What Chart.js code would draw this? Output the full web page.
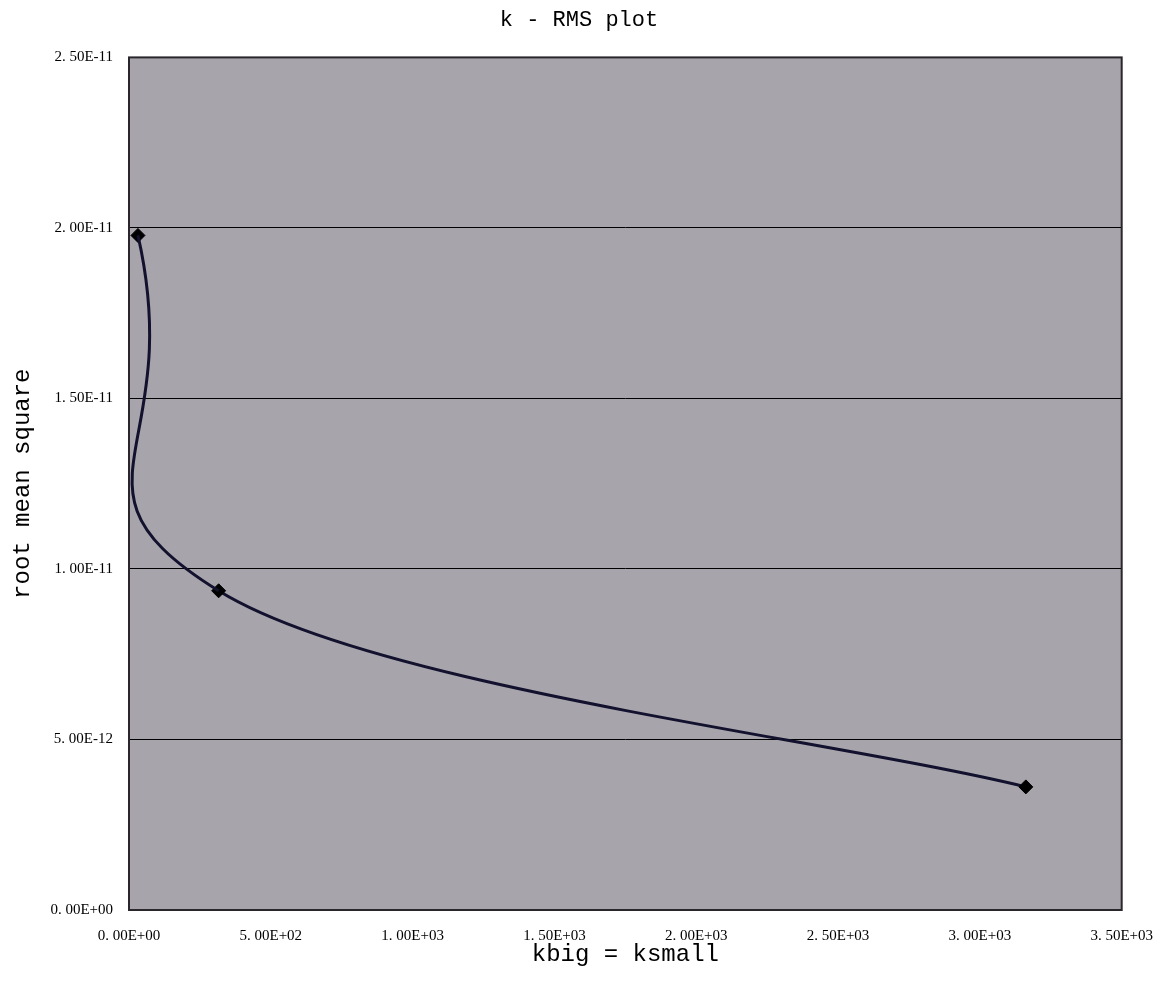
<!DOCTYPE html>
<html>
<head>
<meta charset="utf-8">
<script src="https://cdn.jsdelivr.net/npm/chart.js@4"></script>
<style>
  html, body { margin: 0; padding: 0; background: #fff; }
  #wrap { width: 1170px; height: 985px; }
</style>
</head>
<body>
<div id="wrap"><canvas id="rms-chart" width="1170" height="985"></canvas></div>
<script>
// values
const kValues = [31.6, 316, 3162]
const rmsValues = [1.978e-11, 9.36e-12, 3.61e-12]

const xMin = 0
const xMax = 3500
const xStep = 500
const yMin = 0
const yMax = 2.5e-11
const yStep = 5e-12

const points = kValues.map(function (k, i) {
  return { x: k, y: rmsValues[i] }
})

const lineColor = '#12122e'
const hidden = 'rgba(0,0,0,0)'

// 2.50E-11 style labels, with the wide dot of the original
function sciLabel (value) {
  const parts = Number(value).toExponential(2).split('e')
  let exp = parseInt(parts[1], 10)
  const sign = exp < 0 ? '-' : '+'
  exp = Math.abs(exp)
  const expText = exp < 10 ? '0' + exp : String(exp)
  return parts[0].replace('.', '. ') + 'E' + sign + expText
}

const plotFrame = {
  id: 'plotFrame',
  beforeDraw: function (chart) {
    const a = chart.chartArea
    const ctx = chart.ctx
    ctx.save()
    ctx.fillStyle = '#a8a4ac'
    ctx.fillRect(a.left, a.top, a.right - a.left, a.bottom - a.top)
    ctx.restore()
  },
  afterDraw: function (chart) {
    const a = chart.chartArea
    const ctx = chart.ctx
    ctx.save()
    ctx.strokeStyle = '#2a262c'
    ctx.lineWidth = 2
    ctx.strokeRect(a.left, a.top, a.right - a.left, a.bottom - a.top)
    ctx.restore()
  },
}

const tickFont = { family: '"Liberation Serif", "DejaVu Serif", serif', size: 15 }
const titleFont = { family: '"Liberation Mono", "DejaVu Sans Mono", monospace', size: 24 }

// Excel smooths each piece a little differently, so the curve is drawn
// twice from the same points, each copy showing only one of the pieces
const config = {
  type: 'scatter',
  data: {
    datasets: [{
      label: 'RMS upper',
      data: points,
      showLine: true,
      tension: 0.62,
      borderWidth: 3,
      borderColor: lineColor,
      segment: {
        borderColor: function (c) { return c.p0DataIndex === 0 ? lineColor : hidden },
      },
      pointRadius: 0,
      pointHoverRadius: 0,
    }, {
      label: 'RMS',
      data: points,
      showLine: true,
      tension: 0.25,
      borderWidth: 3,
      borderColor: lineColor,
      segment: {
        borderColor: function (c) { return c.p0DataIndex === 1 ? lineColor : hidden },
      },
      backgroundColor: '#000000',
      pointStyle: 'rectRot',
      pointRadius: 7,
      pointHoverRadius: 7,
      pointBorderWidth: 1,
      pointBorderColor: '#000000',
      pointBackgroundColor: '#000000',
    }],
  },
  options: {
    responsive: false,
    animation: false,
    elements: {
      line: { capBezierPoints: false },
    },
    layout: {
      padding: { top: 0, right: 12, bottom: 0, left: 0 },
    },
    plugins: {
      legend: { display: false },
      tooltip: { enabled: false },
      title: {
        display: true,
        text: 'k - RMS plot',
        color: '#000',
        font: { family: '"Liberation Mono", "DejaVu Sans Mono", monospace', size: 22, weight: 'normal' },
        padding: { top: 7, bottom: 24 },
      },
    },
    scales: {
      x: {
        type: 'linear',
        min: xMin,
        max: xMax,
        afterFit: function (scale) { scale.height = 75 },
        grid: { display: false, drawTicks: false },
        border: { display: false },
        ticks: {
          stepSize: xStep,
          color: '#000',
          font: tickFont,
          padding: 17,
          maxRotation: 0,
          callback: function (v) { return sciLabel(v) },
        },
        title: {
          display: true,
          text: 'kbig = ksmall',
          color: '#000',
          font: titleFont,
          padding: { top: 0, bottom: 16 },
        },
      },
      y: {
        type: 'linear',
        min: yMin,
        max: yMax,
        afterFit: function (scale) { scale.width = 129 },
        grid: { color: '#000000', lineWidth: 1, drawTicks: false },
        border: { display: false },
        ticks: {
          stepSize: yStep,
          color: '#000',
          font: tickFont,
          padding: 16,
          callback: function (v) { return sciLabel(v) },
        },
        title: {
          display: true,
          text: 'root mean square',
          color: '#000',
          font: titleFont,
          padding: { top: 8, bottom: 0 },
        },
      },
      // empty strip on the right so the plot ends where the original does
      yRight: {
        type: 'linear',
        position: 'right',
        afterFit: function (scale) { scale.width = 36 },
        grid: { display: false, drawTicks: false },
        border: { display: false },
        ticks: { display: false },
      },
    },
  },
  plugins: [plotFrame],
}

const ctx = document.getElementById('rms-chart').getContext('2d')
const rmsChart = new Chart(ctx, config)
</script>
</body>
</html>
